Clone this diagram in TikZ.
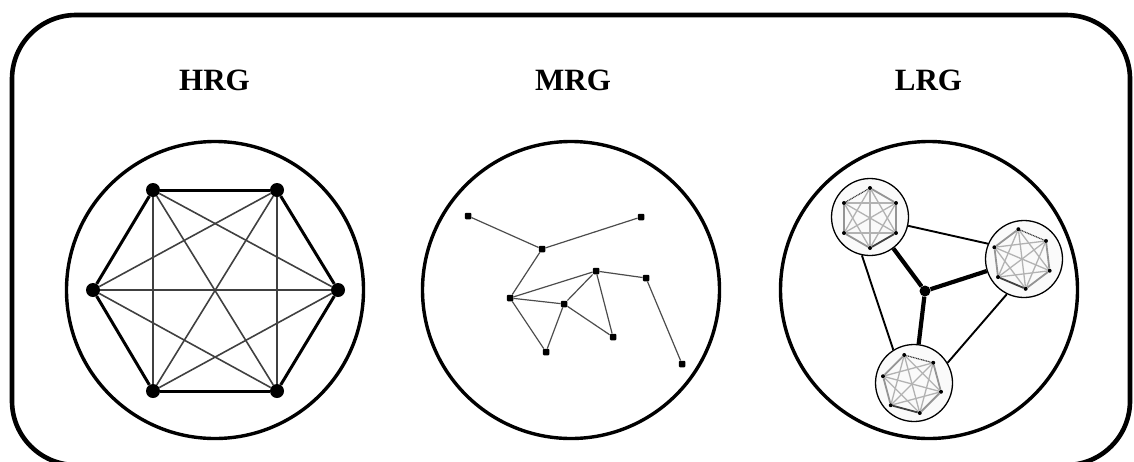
\documentclass[tikz,border=0pt]{standalone}
\usepackage{fontspec}
\setmainfont{Liberation Serif}
\usetikzlibrary{calc}
\tikzset{
  hnode/.style={circle, fill=black, inner sep=0pt, minimum size=14pt},
  mnode/.style={rectangle, rounded corners=1pt, fill=black, inner sep=0pt, minimum size=6.5pt},
  cnode/.style={circle, fill=black, inner sep=0pt, minimum size=11pt},
  snode/.style={circle, fill=black, inner sep=0pt, minimum size=4pt},
  bigcircle/.style={circle, draw, line width=3.4pt, minimum size=297pt, inner sep=0pt},
  clus/.style={circle, draw, line width=1.3pt, fill=black!2, minimum size=77pt, inner sep=0pt},
  title/.style={font=\fontsize{31}{31}\selectfont\bfseries, inner sep=0pt},
  hperim/.style={line width=3pt, black},
  hdiag/.style={line width=1.6pt, black!75},
  medge/.style={line width=1.2pt, black!70},
  lthick/.style={line width=4.2pt, black},
  lthin/.style={line width=1.9pt, black},
  sperim/.style={line width=1.8pt, black!42},
  sdiag/.style={line width=1.3pt, black!30},
  sdot/.style={line width=1.2pt, black!80, dash pattern=on 1pt off 0.7pt},
  sdark/.style={line width=1.8pt, black!75},
}
\newcommand\mycluster[6]{%
  \node[clus] (#1) at (#2,#3) {};
  \foreach \k in {0,...,5}
    \node[snode] (#1v\k) at ({#4+30*cos(#6-60*\k)},{#5-30*sin(#6-60*\k)}) {};
  \foreach \a/\b in {0/2,1/3,2/4,3/5,4/0,5/1,0/3,1/4,2/5}
    \draw[sdiag] (#1v\a) -- (#1v\b);
  \foreach \a/\b in {1/2,2/3,4/5,5/0}
    \draw[sperim] (#1v\a) -- (#1v\b);
  \draw[sdot] (#1v0) -- (#1v1);
  \draw[sdark] (#1v3) -- (#1v4);
}
\begin{document}
\begin{tikzpicture}[x=1pt,y=-1pt]
\clip (0,0) rectangle (1134,461);
\useasboundingbox (0,0) rectangle (1134,461);
\draw[line width=4.6pt, rounded corners=64pt] (12,15) rectangle (1130,465);

% titles
\node[title] (thrg) at (214.5,80.5) {HRG};
\node[title] (tmrg) at (573,80.5) {MRG};
\node[title] (tlrg) at (928.5,80.5) {LRG};

% HRG
\node[bigcircle] (hrgc) at (215,290) {};
\node[hnode] (h1) at (153,190) {};
\node[hnode] (h2) at (277,190) {};
\node[hnode] (h3) at (338,290) {};
\node[hnode] (h4) at (277,391) {};
\node[hnode] (h5) at (153,391) {};
\node[hnode] (h6) at (93,290) {};
\foreach \a/\b in {h1/h3,h1/h4,h1/h5,h2/h4,h2/h5,h2/h6,h3/h5,h3/h6,h4/h6}
  \draw[hdiag] (\a) -- (\b);
\foreach \a/\b in {h1/h2,h2/h3,h3/h4,h4/h5,h5/h6,h6/h1}
  \draw[hperim] (\a) -- (\b);

% MRG
\node[bigcircle] (mrgc) at (571,290) {};
\node[mnode] (ma) at (468,216) {};
\node[mnode] (mb) at (641,217) {};
\node[mnode] (mc) at (542,249) {};
\node[mnode] (md) at (596,271) {};
\node[mnode] (me) at (646,278) {};
\node[mnode] (mf) at (510,298) {};
\node[mnode] (mg) at (564,304) {};
\node[mnode] (mh) at (613,337) {};
\node[mnode] (mi) at (546,352) {};
\node[mnode] (mj) at (682,364) {};
\foreach \a/\b in {ma/mc,mc/mb,mc/mf,mf/md,mf/mg,mf/mi,mi/mg,mg/md,mg/mh,md/mh,md/me,me/mj}
  \draw[medge] (\a) -- (\b);

% LRG
\node[bigcircle] (lrgc) at (929,290) {};
\mycluster{ca}{870}{217}{870}{218}{150}
\mycluster{cb}{1024}{259}{1022}{259}{97}
\mycluster{cc}{914}{383}{912}{384}{105}
\node[cnode] (ctr) at (925,291) {};
\draw[lthick] (ctr) -- (ca);
\draw[lthick] (ctr) -- (cb);
\draw[lthick] (ctr) -- (cc);
\draw[lthin] (ca.-13) -- (cb.157);
\draw[lthin] (ca.-102) -- (cc.122);
\draw[lthin] (cb.-116) -- (cc.31);
\end{tikzpicture}
\end{document}
